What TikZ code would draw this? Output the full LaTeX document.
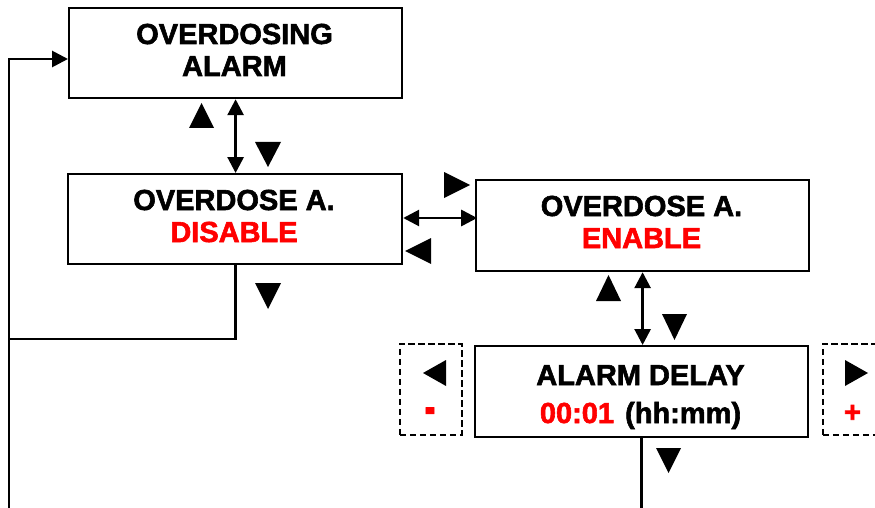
\documentclass[tikz,border=0pt]{standalone}
\usepackage{fontspec}
\setmainfont{Liberation Sans}
\newfontfamily\heavyfont{Liberation Sans}[BoldFeatures={FakeBold=2}]
\usepackage{graphicx}
\usetikzlibrary{arrows.meta,calc}
\tikzset{
  bigtip/.tip={Triangle[length=16pt,width=16pt]},
}
\begin{document}
\begin{tikzpicture}[x=1pt,y=-1pt,
  box/.style={draw, line width=2.2pt, inner sep=0pt, anchor=north west, minimum width=333pt, minimum height=90pt},
  dbox/.style={draw, dash pattern=on 6.5pt off 3.5pt, line width=1.9pt, inner sep=0pt, anchor=north west, minimum width=62pt, minimum height=91pt},
  txt/.style={font=\heavyfont\bfseries\fontsize{29}{32}\selectfont, inner sep=0pt, anchor=base},
  red txt/.style={txt, text=red},
  conn/.style={line width=2.8pt},
  tri/.style={fill=black}]
\useasboundingbox (0,0) rectangle (875,508);
% boxes
\node[box] (b1) at (68,7) {};
\node[box, minimum width=334pt] (b2) at (67,173) {};
\node[box, minimum height=91pt] (b3) at (475,179) {};
\node[box, minimum height=91pt] (b4) at (474,345) {};
\node[dbox] (dl) at (399,343) {};
\node[dbox] (dr) at (822,343) {};
% texts
\node[txt] (t1a) at (234.5,44) {OVERDOSING};
\node[txt] (t1b) at (234.5,76) {ALARM};
\node[txt] (t2a) at (234,210) {OVERDOSE A.};
\node[red txt] (t2b) at (234,242) {DISABLE};
\node[txt] (t3a) at (641.5,216) {OVERDOSE A.};
\node[red txt] (t3b) at (641.5,248) {ENABLE};
\node[txt] (t4a) at (640.5,385) {ALARM DELAY};
\node[txt] (t4b) at (640.5,423) {\textcolor{red}{00:01}\hspace{3pt} (hh:mm)};
\node[font=\heavyfont\bfseries\fontsize{29}{32}\selectfont, text=red, inner sep=0pt] (minus) at (430,415.5) {\scalebox{1.1}[1.7]{-}};
\node[font=\heavyfont\bfseries\fontsize{29}{32}\selectfont, text=red, inner sep=0pt] (plus) at (852.5,413.5) {+};
% coordinates
\coordinate (loopTop) at (9,59);
\coordinate (loopBot) at (9,508);
\coordinate (loopJoin) at (9,339);
\coordinate (endBot) at (641,508);
% connectors
\draw[conn, bigtip-bigtip] (b1.south) -- (b2.north -| b1.south);
\draw[conn, bigtip-bigtip] ($(b2.north east)+(0,45)$) -- ($(b2.north east)+(74,45)$);
\draw[conn, bigtip-bigtip] (b3.south) -- (b3.south |- b4.north);
\draw[conn] (b4.south) -- (b4.south |- endBot);
\draw[conn] (b2.south -| b1.south) |- (loopJoin);
\draw[conn, -bigtip] (loopBot) |- (loopTop -| b1.west);
% triangles
\fill[tri] (189,128) -- (214,128) -- (201.5,103) -- cycle;
\fill[tri] (255,142) -- (281,142) -- (268,167) -- cycle;
\fill[tri] (444,172) -- (444,198) -- (470,185) -- cycle;
\fill[tri] (431,238) -- (431,264) -- (405,251) -- cycle;
\fill[tri] (596,301) -- (621,301) -- (608.5,275) -- cycle;
\fill[tri] (662,314) -- (687,314) -- (674.5,340) -- cycle;
\fill[tri] (255,283) -- (281,283) -- (268,309) -- cycle;
\fill[tri] (656,448) -- (681,448) -- (668.5,473) -- cycle;
\fill[tri] (446,360) -- (446,386) -- (423,373) -- cycle;
\fill[tri] (845,360) -- (845,386) -- (868,373) -- cycle;
\end{tikzpicture}
\end{document}
